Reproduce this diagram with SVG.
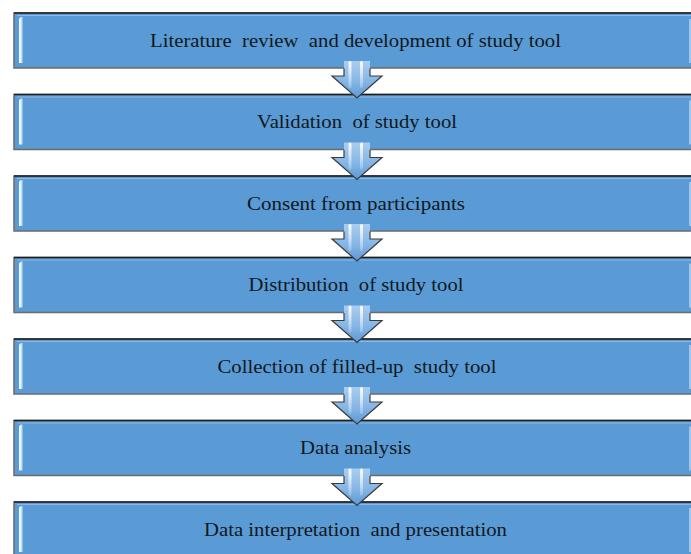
<svg xmlns="http://www.w3.org/2000/svg" width="691" height="554" viewBox="0 0 691 554">
  <style>
    .box { fill: #5b9bd5; stroke: #6b6b6b; stroke-width: 1.5; }
    .topline { stroke: #1e1e1e; stroke-width: 1.6; }
    .inner { fill: none; stroke: #8db8e4; stroke-width: 1; }
    .label { font-family: "Liberation Serif", "Times New Roman", serif; font-size: 19px; fill: #101820; white-space: pre; }
    .arrow { fill: url(#arrowFill); }
    .arrowEdge { fill: none; stroke: #3c3c3c; stroke-width: 1.2; stroke-linejoin: miter; }
    .stripe { fill: url(#stripeFill); }
  </style>
  <defs>
    <linearGradient id="leftGlow" x1="0" y1="0" x2="1" y2="0">
      <stop offset="0" stop-color="#ffffff"/>
      <stop offset="0.45" stop-color="#d6f0ff"/>
      <stop offset="1" stop-color="#5b9bd5"/>
    </linearGradient>
    <linearGradient id="arrowFill" x1="0" y1="0" x2="0" y2="1">
      <stop offset="0" stop-color="#a9cdf0"/>
      <stop offset="0.55" stop-color="#86b6e6"/>
      <stop offset="1" stop-color="#5b98d6"/>
    </linearGradient>
    <linearGradient id="stripeFill" x1="0" y1="0" x2="0" y2="1">
      <stop offset="0" stop-color="#ffffff" stop-opacity="0.95"/>
      <stop offset="1" stop-color="#ffffff" stop-opacity="0.2"/>
    </linearGradient>
    <!-- one bevelled step box, 683 x 55 -->
    <g id="step">
      <rect class="box" x="14" y="0" width="683" height="55"/>
      <line class="topline" x1="14" y1="0" x2="697" y2="0"/>
      <line class="inner" x1="17" y1="2.5" x2="694" y2="2.5"/>
      <path d="M19,7 Q19,4 22,4 L23.5,4 L23.5,50 L19,50 Z" fill="url(#leftGlow)"/>
      <path d="M689,6 L691,6 L691,50 L689,50 Z" fill="#9cc6ee"/>
    </g>
    <!-- down arrow; y=0 is the bottom edge of the box above -->
    <g id="down">
      <path class="arrow" d="M344,-7 H370 V8 H382 L357,30 L332,8 H344 Z"/>
      <rect class="stripe" x="348.5" y="-7" width="3" height="27" rx="1.5"/>
      <rect class="stripe" x="360" y="-7" width="3" height="27" rx="1.5"/>
      <path class="arrowEdge" d="M344,0.5 V8 H332 L357,30 L382,8 H370 V0.5"/>
    </g>
  </defs>

  <g id="node-1"><use href="#step" y="13"/><text class="label" x="150" y="46.5" textLength="411" lengthAdjust="spacingAndGlyphs">Literature  review  and development of study tool</text></g>
  <g id="node-2"><use href="#step" y="94.5"/><text class="label" x="257" y="127.5" textLength="200" lengthAdjust="spacingAndGlyphs">Validation  of study tool</text></g>
  <g id="node-3"><use href="#step" y="176"/><text class="label" x="247" y="209.5" textLength="218" lengthAdjust="spacingAndGlyphs">Consent from participants</text></g>
  <g id="node-4"><use href="#step" y="257.5"/><text class="label" x="248.5" y="291" textLength="215" lengthAdjust="spacingAndGlyphs">Distribution  of study tool</text></g>
  <g id="node-5"><use href="#step" y="339"/><text class="label" x="217.5" y="372.5" textLength="279" lengthAdjust="spacingAndGlyphs">Collection of filled-up  study tool</text></g>
  <g id="node-6"><use href="#step" y="420.5"/><text class="label" x="300" y="454" textLength="111" lengthAdjust="spacingAndGlyphs">Data analysis</text></g>
  <g id="node-7"><use href="#step" y="502"/><text class="label" x="204" y="535.5" textLength="303" lengthAdjust="spacingAndGlyphs">Data interpretation  and presentation</text></g>

  <g id="connectors">
    <use href="#down" y="68"/>
    <use href="#down" y="149.5"/>
    <use href="#down" y="231"/>
    <use href="#down" y="312.5"/>
    <use href="#down" y="394"/>
    <use href="#down" y="475.5"/>
  </g>
</svg>
